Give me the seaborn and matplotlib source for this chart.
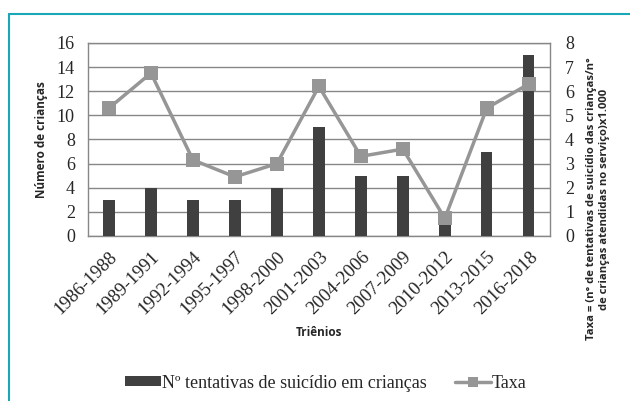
import pandas as pd
import matplotlib
matplotlib.use("Agg")
from matplotlib import pyplot as plt
from matplotlib.lines import Line2D
from matplotlib.patches import Patch
import seaborn as sns

# Data
trienios = ["1986-1988", "1989-1991", "1992-1994", "1995-1997", "1998-2000",
            "2001-2003", "2004-2006", "2007-2009", "2010-2012", "2013-2015",
            "2016-2018"]
tentativas = [3, 4, 3, 3, 4, 9, 5, 5, 1, 7, 15]
taxa = [5.3, 6.75, 3.15, 2.45, 3.0, 6.2, 3.3, 3.6, 0.73, 5.3, 6.3]

df = pd.DataFrame({"trienio": trienios, "tentativas": tentativas, "taxa": taxa})
df["pos"] = range(len(df))

sns.set_style("white")
serif = ["Liberation Serif", "DejaVu Serif"]
sans = ["Open Sans", "DejaVu Sans"]

bar_color = "#404040"
line_color = "#969696"
grid_color = "#878787"

fig = plt.figure(figsize=(6.3, 4.01), dpi=100)
ax = fig.add_axes([0.1397, 0.4115, 0.733, 0.4815])

sns.barplot(data=df, x="trienio", y="tentativas", color=bar_color,
            width=0.27, saturation=1, ax=ax, zorder=3, edgecolor="none")
ax.set_ylim(0, 16)
ax.set_yticks(range(0, 17, 2))
ax.set_xlim(-0.5, len(df) - 0.5)
ax.yaxis.grid(True, color=grid_color, linewidth=1.0, zorder=0)
ax.set_axisbelow(True)
for s in ax.spines.values():
    s.set_color(grid_color)
    s.set_linewidth(1.0)
ax.tick_params(axis="both", length=0)
ax.tick_params(axis="y", pad=9.5)
ax.tick_params(axis="x", pad=9)
for lab in ax.get_yticklabels():
    lab.set_fontfamily(serif)
    lab.set_fontsize(13)
ax.set_xticks(range(len(df)))
ax.set_xticklabels(trienios, rotation=45, ha="right", rotation_mode="anchor",
                   fontfamily=serif, fontsize=13.5)
ax.set_xlabel("Triênios", fontfamily=sans, fontweight="bold", fontsize=8.5,
              labelpad=6)
ax.set_ylabel("Número de crianças", fontfamily=sans, fontweight="bold",
              fontsize=8.5, labelpad=6)

ax2 = ax.twinx()
sns.lineplot(data=df, x="pos", y="taxa", color=line_color, linewidth=2.5,
             marker="s", markersize=9.5, markeredgewidth=0, ax=ax2, zorder=4)
ax2.set_ylim(0, 8)
ax2.set_yticks(range(0, 9))
ax2.set_ylabel("")
ax2.tick_params(axis="y", length=0, pad=11)
for lab in ax2.get_yticklabels():
    lab.set_fontfamily(serif)
    lab.set_fontsize(13)
for s in ax2.spines.values():
    s.set_visible(False)

fig.text(598 / 630, 1 - 199 / 401,
         "Taxa = (n° de tentativas de suicídio das crianças/n°\n"
         "de crianças atendidas no serviço)x1.000",
         rotation=90, ha="center", va="center", ma="center",
         fontfamily=sans, fontweight="bold", fontsize=8.1, linespacing=1.15)

handles = [
    Patch(facecolor=bar_color, edgecolor="none"),
    Line2D([0], [0], color=line_color, linewidth=2.5, marker="s",
           markersize=7, markeredgewidth=0),
]
fig.legend(handles, ["Nº tentativas de suicídio em crianças", "Taxa"],
           loc="center", bbox_to_anchor=(326 / 630, 1 - 383 / 401), ncol=2,
           frameon=False, prop={"family": serif, "size": 13},
           handlelength=2.0, handleheight=0.4, handletextpad=0.05,
           columnspacing=1.55)

# teal frame lines (left and top)
teal = "#1aa7b8"
fig.add_artist(Line2D([9 / 630, 9 / 630], [0, 1 - 14 / 401], color=teal,
                      linewidth=1.5, transform=fig.transFigure))
fig.add_artist(Line2D([9 / 630, 1], [1 - 14 / 401, 1 - 14 / 401], color=teal,
                      linewidth=1.5, transform=fig.transFigure))

fig.savefig("out.png", dpi=100)
